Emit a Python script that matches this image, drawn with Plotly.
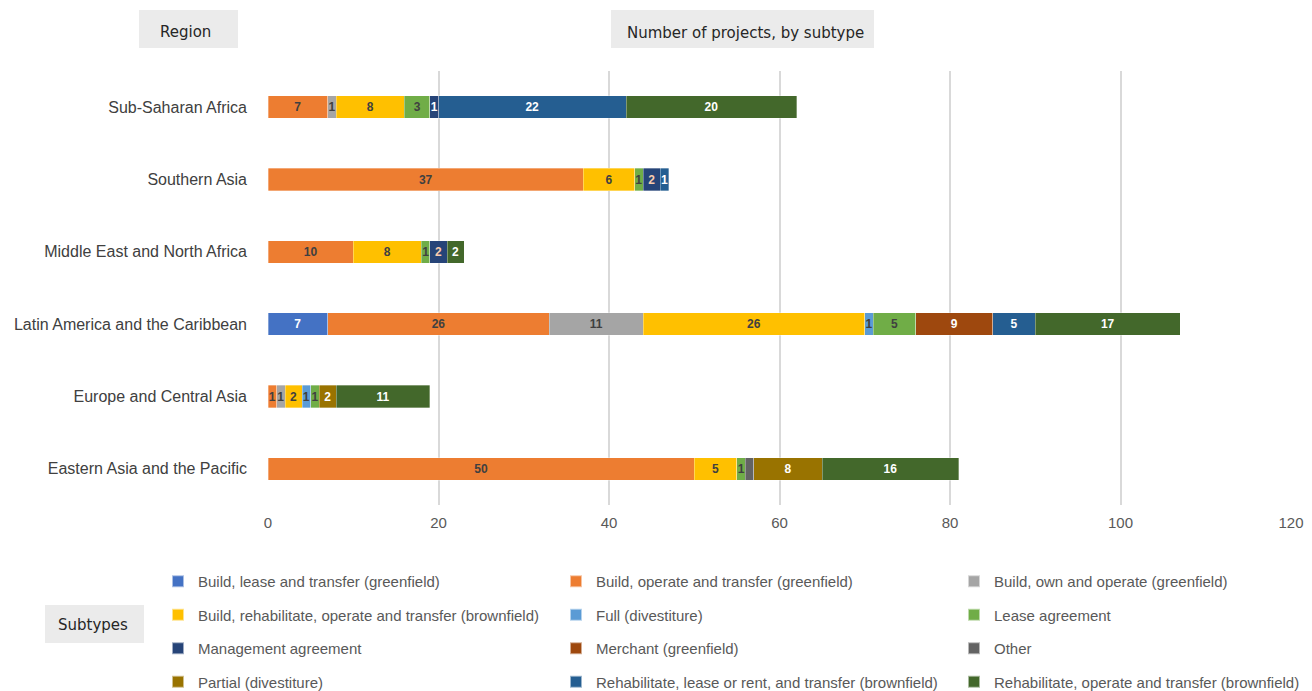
import plotly.graph_objects as go

# Regions, listed bottom to top as they appear on the axis
regions = [
    "Eastern Asia and the Pacific",
    "Europe and Central Asia",
    "Latin America and the Caribbean",
    "Middle East and North Africa",
    "Southern Asia",
    "Sub-Saharan Africa",
]

# Number of projects per subtype, one value per region (None = no projects)
build_lease_transfer = [None, None, 7, None, None, None]
build_operate_transfer = [50, 1, 26, 10, 37, 7]
build_own_operate = [None, 1, 11, None, None, 1]
build_rehab_operate_transfer = [5, 2, 26, 8, 6, 8]
full_divestiture = [None, 1, 1, None, None, None]
lease_agreement = [1, 1, 5, 1, 1, 3]
management_agreement = [None, None, None, 2, 2, 1]
merchant = [None, None, 9, None, None, None]
other = [1, None, None, None, None, None]
partial_divestiture = [8, 2, None, None, None, None]
rehab_lease_rent_transfer = [None, None, 5, None, 1, 22]
rehab_operate_transfer = [16, 11, 17, 2, None, 20]

x_ticks = [0, 20, 40, 60, 80, 100, 120]

DARK = "#404040"
WHITE = "#FFFFFF"
PEACH = "#F8CBAD"

# name, values, colour, label colour, legend column, show labels
series = [
    ("Build, lease and transfer (greenfield)", build_lease_transfer, "#4472C4", WHITE, 1, True),
    ("Build, operate and transfer (greenfield)", build_operate_transfer, "#ED7D31", DARK, 2, True),
    ("Build, own and operate (greenfield)", build_own_operate, "#A5A5A5", DARK, 3, True),
    ("Build, rehabilitate, operate and transfer (brownfield)", build_rehab_operate_transfer, "#FFC000", DARK, 1, True),
    ("Full (divestiture)", full_divestiture, "#5B9BD5", DARK, 2, True),
    ("Lease agreement", lease_agreement, "#70AD47", DARK, 3, True),
    ("Management agreement", management_agreement, "#264478", PEACH, 1, True),
    ("Merchant (greenfield)", merchant, "#9E480E", WHITE, 2, True),
    ("Other", other, "#636363", WHITE, 3, False),
    ("Partial (divestiture)", partial_divestiture, "#997300", WHITE, 1, True),
    ("Rehabilitate, lease or rent, and transfer (brownfield)", rehab_lease_rent_transfer, "#255E91", WHITE, 2, True),
    ("Rehabilitate, operate and transfer (brownfield)", rehab_operate_transfer, "#43682B", WHITE, 3, True),
]

NARROW = "Liberation Sans, Arial, sans-serif"
PLAIN = "DejaVu Sans, Verdana, sans-serif"

W, H = 1312, 691
L, R, T, B = 268, 21, 71, 186
PW, PH = W - L - R, H - T - B


def px_x(px):
    return (px - L) / PW


def px_y(py):
    return (H - B - py) / PH


fig = go.Figure()
legend_ids = {1: "legend", 2: "legend2", 3: "legend3"}
for i, (name, vals, color, tcolor, col, show) in enumerate(series):
    labels = [("" if v is None else str(v)) for v in vals]
    tcolors = [tcolor] * len(vals)
    if name == "Management agreement":
        tcolors = [PEACH if v == 2 else WHITE for v in vals]
    fig.add_trace(go.Bar(
        y=regions,
        x=vals,
        name=name,
        orientation="h",
        marker=dict(color=color, line=dict(color="rgba(255,255,255,0.55)", width=0.6)),
        text=labels if show else None,
        textposition="inside" if show else "none",
        insidetextanchor="middle",
        textangle=0,
        textfont=dict(family=NARROW, size=12, color=tcolors, weight="bold"),
        legend=legend_ids[col],
        legendgroup=f"g{i}",
        hoverinfo="x+y+name",
    ))

legend_common = dict(
    orientation="v",
    xanchor="left",
    yanchor="top",
    y=px_y(565),
    font=dict(family=NARROW, size=15, color="#595959"),
    bgcolor="rgba(0,0,0,0)",
    traceorder="grouped",
    tracegroupgap=11,
    itemsizing="constant",
)

fig.update_layout(
    width=W,
    height=H,
    margin=dict(l=L, r=R, t=T, b=B, autoexpand=False),
    paper_bgcolor="white",
    plot_bgcolor="white",
    barmode="stack",
    bargap=0.69,
    uniformtext=dict(minsize=12, mode="show"),
    xaxis=dict(
        range=[0, 120],
        tickvals=x_ticks,
        showgrid=True,
        gridcolor="#D9D9D9",
        gridwidth=1.5,
        zeroline=False,
        showline=False,
        automargin=False,
        ticklabelstandoff=7,
        tickfont=dict(family=NARROW, size=15, color="#595959"),
        ticks="",
    ),
    yaxis=dict(
        categoryorder="array",
        categoryarray=regions,
        showgrid=False,
        zeroline=False,
        automargin=False,
        ticks="",
        ticklabelstandoff=20,
        tickfont=dict(family=NARROW, size=16, color="#404040"),
    ),
    legend=dict(legend_common, x=px_x(158)),
    legend2=dict(legend_common, x=px_x(556)),
    legend3=dict(legend_common, x=px_x(954)),
    showlegend=True,
)

# Header and caption boxes: label, box left/right/top/bottom, text centre
boxes = [
    ("Region", 139, 238, 10, 48, 185, 32),
    ("Number of projects, by subtype", 611, 874, 10, 48, 745, 32.5),
    ("Subtypes", 45, 144, 605, 643, 93, 625),
]
for text, x0, x1, y0, y1, tx, ty in boxes:
    fig.add_shape(
        type="rect", xref="paper", yref="paper",
        x0=px_x(x0), x1=px_x(x1), y0=px_y(y1), y1=px_y(y0),
        fillcolor="#EBEBEB", line=dict(width=0), layer="below",
    )
    fig.add_annotation(
        xref="paper", yref="paper",
        x=px_x(tx), y=px_y(ty),
        text=text, showarrow=False,
        font=dict(family=PLAIN, size=15, color="#262626"),
        xanchor="center", yanchor="middle",
    )

fig.write_html("out.html")
